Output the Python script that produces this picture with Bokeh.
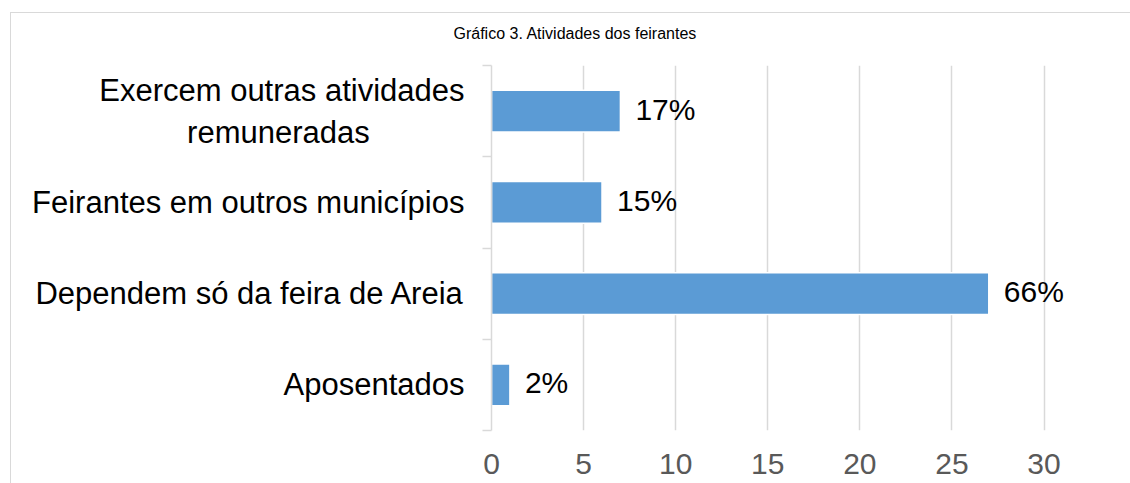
from bokeh.plotting import figure
from bokeh.models import Range1d, FixedTicker, ColumnDataSource, InlineStyleSheet
from bokeh.core.properties import value
from bokeh.embed import file_html
from bokeh.resources import INLINE

title_text = "Gráfico 3. Atividades dos feirantes"
categories = [
    "Exercem outras atividades\nremuneradas" + "\u00a0" * 11,
    "Feirantes em outros municípios",
    "Dependem só da feira de Areia",
    "Aposentados",
]
counts = [7, 6, 27, 1]
percent_labels = ["17%", "15%", "66%", "2%"]
x_ticks = [0, 5, 10, 15, 20, 25, 30]

FONT = "Liberation Sans"
GRID = "#d9d9d9"

n = len(categories)
ypos = [n - i - 0.5 for i in range(n)]
src = ColumnDataSource(dict(y=ypos, count=counts, label=percent_labels))

p = figure(
    width=1130, height=483,
    x_range=Range1d(0, 33.5), y_range=Range1d(0, n),
    output_backend="svg", toolbar_location=None,
    min_border_left=491, min_border_right=22,
    min_border_top=65, min_border_bottom=53,
)
p.background_fill_color = "white"
p.border_fill_color = "white"
p.outline_line_color = None

p.title.text = title_text
p.title.align = "left"
p.title.offset = -38
p.title.standoff = 44
p.title.vertical_align = "top"
p.title.text_font = FONT
p.title.text_font_size = "16px"
p.title.text_font_style = "normal"
p.title.text_color = "black"

p.hbar(y="y", left=0, right="count", height=0.46, source=src,
       fill_color="#5b9bd5", line_color="white", line_width=1.5)

p.text(x="count", y="y", text="label", source=src, x_offset=15, y_offset=-2,
       text_baseline="middle", text_align="left",
       text_font=value(FONT), text_font_size="30px", text_color="black")

# x axis
p.xaxis.ticker = FixedTicker(ticks=x_ticks)
p.xaxis.axis_line_color = None
p.xaxis.major_tick_line_color = None
p.xaxis.minor_tick_line_color = None
p.xaxis.major_label_text_font = FONT
p.xaxis.major_label_text_font_size = "30px"
p.xaxis.major_label_text_color = "#595959"
p.xaxis.major_label_standoff = 17

# y axis
p.yaxis.ticker = FixedTicker(ticks=ypos, minor_ticks=list(range(n + 1)))
p.yaxis.major_label_overrides = {y: c for y, c in zip(ypos, categories)}
p.yaxis.major_tick_line_color = None
p.yaxis.major_tick_out = 0
p.yaxis.major_tick_in = 0
p.yaxis.minor_tick_line_color = GRID
p.yaxis.minor_tick_line_width = 1.5
p.yaxis.minor_tick_out = 9
p.yaxis.minor_tick_in = 0
p.yaxis.axis_line_color = GRID
p.yaxis.axis_line_width = 1.5
p.yaxis.major_label_text_font = FONT
p.yaxis.major_label_text_font_size = "31px"
p.yaxis.major_label_text_color = "black"
p.yaxis.major_label_standoff = 18

p.xgrid.ticker = FixedTicker(ticks=x_ticks)
p.xgrid.grid_line_color = GRID
p.xgrid.grid_line_width = 1.5
p.ygrid.grid_line_color = None

p.stylesheets = [InlineStyleSheet(css=(
    ":host { position: relative; }"
    ":host::after { content: ''; position: absolute; left: 10px; top: 12px; right: 0; bottom: 0;"
    " border-left: 1.5px solid #d9d9d9; border-top: 1.5px solid #d9d9d9;"
    " pointer-events: none; box-sizing: border-box; }"
))]

open("out.html", "w").write(file_html(p, INLINE))
